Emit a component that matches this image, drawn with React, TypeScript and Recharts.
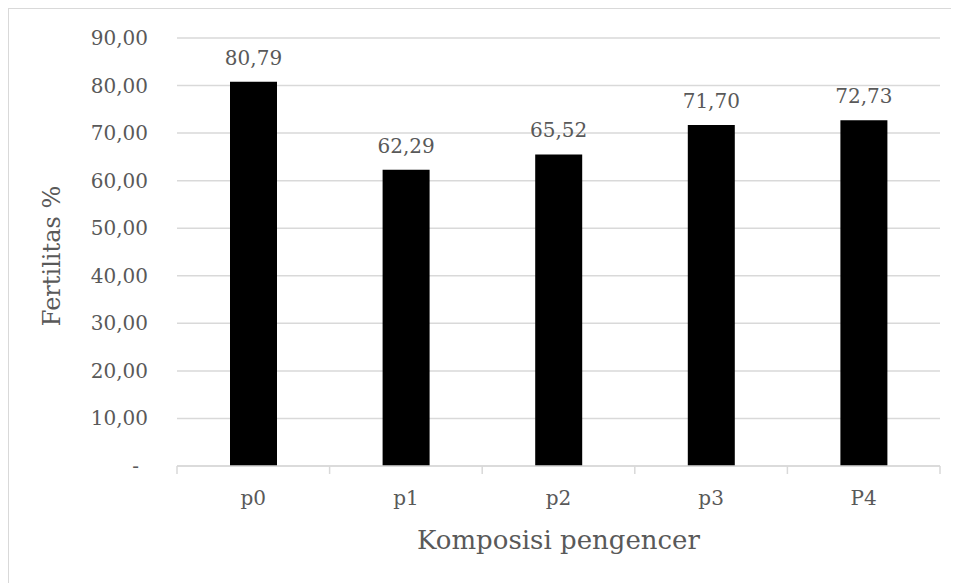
import { BarChart, Bar, XAxis, YAxis, CartesianGrid, LabelList, Label } from "recharts"

const categories = ["p0", "p1", "p2", "p3", "P4"]
const fertilitas = [80.79, 62.29, 65.52, 71.7, 72.73]
const yTicks = [0, 10, 20, 30, 40, 50, 60, 70, 80, 90]

const data = categories.map((name, i) => ({ name, value: fertilitas[i] }))

const textColor = "#595959"
const gridColor = "#d9d9d9"
const font = "'DejaVu Serif', serif"

const fmt = (v: number) => (v === 0 ? "-" : v.toFixed(2).replace(".", ","))

function YTick(props: any) {
    const { x, y, payload } = props
    const zero = payload.value === 0
    return (
        <text x={zero ? x - 9 : x} y={y} dy={7} textAnchor="end" fill={textColor} fontSize={20} fontFamily={font}>
            {fmt(payload.value)}
        </text>
    )
}

function XTick(props: any) {
    const { x, y, payload, index, width, visibleTicksCount } = props
    const half = width / visibleTicksCount / 2
    return (
        <g>
            <line x1={x - half} x2={x - half} y1={y} y2={y + 8} stroke={gridColor} strokeWidth={1.5} />
            {index === visibleTicksCount - 1 && (
                <line x1={x + half} x2={x + half} y1={y} y2={y + 8} stroke={gridColor} strokeWidth={1.5} />
            )}
            <text x={x} y={y + 39} textAnchor="middle" fill={textColor} fontSize={20} fontFamily={font}>
                {payload.value}
            </text>
        </g>
    )
}

export default function App() {
    return (
        <div
            style={{
                width: 950,
                height: 575,
                borderTop: `1px solid ${gridColor}`,
                borderLeft: `1px solid ${gridColor}`,
                fontFamily: font,
            }}
        >
            <BarChart
                width={950}
                height={575}
                data={data}
                margin={{ top: 29, right: 19, left: 0, bottom: 0 }}
                style={{ fontFamily: font }}
            >
                <CartesianGrid vertical={false} stroke={gridColor} strokeWidth={1.5} />
                <XAxis
                    dataKey="name"
                    height={118}
                    tickSize={0}
                    tickMargin={0}
                    tickLine={false}
                    axisLine={{ stroke: gridColor, strokeWidth: 1.5 }}
                    tick={<XTick />}
                    interval={0}
                >
                    <Label
                        value="Komposisi pengencer"
                        position="insideBottom"
                        offset={35}
                        fill={textColor}
                        fontSize={26}
                        fontFamily={font}
                    />
                </XAxis>
                <YAxis
                    width={168}
                    domain={[0, 90]}
                    ticks={yTicks}
                    tickSize={0}
                    tickMargin={29}
                    tickLine={false}
                    axisLine={false}
                    tick={<YTick />}
                    interval={0}
                >
                    <Label
                        value="Fertilitas %"
                        angle={-90}
                        position="center"
                        dx={-42}
                        dy={4}
                        fill={textColor}
                        fontSize={24}
                        fontFamily={font}
                    />
                </YAxis>
                <Bar dataKey="value" fill="#000000" barSize={47} isAnimationActive={false}>
                    <LabelList
                        dataKey="value"
                        position="top"
                        offset={17}
                        formatter={(v: any) => fmt(Number(v))}
                        fill={textColor}
                        fontSize={20}
                        fontFamily={font}
                    />
                </Bar>
            </BarChart>
        </div>
    )
}
